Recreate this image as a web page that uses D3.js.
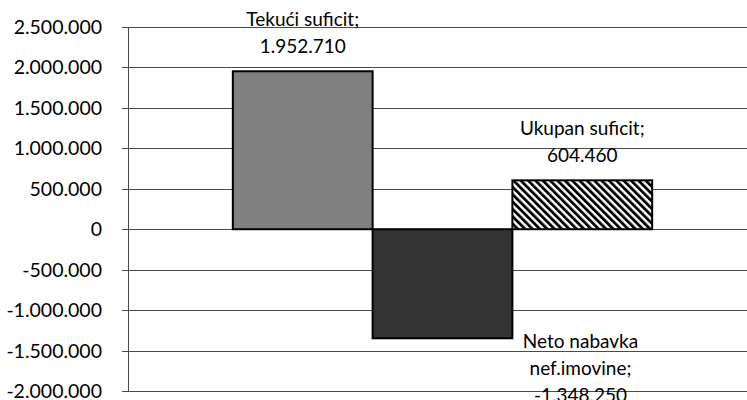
<!DOCTYPE html>
<html>
<head>
<meta charset="utf-8">
<script src="https://cdn.jsdelivr.net/npm/d3@7.9.0/dist/d3.min.js"></script>
<style>
  body { margin: 0; background: #fff; }
  svg { display: block; font-family: Lato, "Open Sans", sans-serif; }
</style>
</head>
<body>
<svg width="747" height="400"></svg>
<script>
// chart data
const categories = ['Tekući suficit', 'Neto nabavka nef.imovine', 'Ukupan suficit'];
const values = [1952710, -1348250, 604460];
const labelNames = [['Tekući suficit;'], ['Neto nabavka', 'nef.imovine;'], ['Ukupan suficit;']];
const tickValues = [-2000000, -1500000, -1000000, -500000, 0, 500000, 1000000, 1500000, 2000000, 2500000];

const locale = d3.formatLocale({ decimal: ',', thousands: '.', grouping: [3], currency: ['', ''], minus: '-' });
const fmt = locale.format(',d');

const svg = d3.select('svg');
const plotLeft = 128, plotRight = 757, plotTop = 27, plotBottom = 391;

let y = d3.scaleLinear().domain([-2000000, 2500000]).range([plotBottom, plotTop]);
let x = d3.scaleBand().domain(categories).range([plotLeft, plotRight]).paddingInner(0).paddingOuter(0.75);

// hatch for the last bar
const defs = svg.append('defs');
defs.append('pattern')
  .attr('id', 'hatch')
  .attr('patternUnits', 'userSpaceOnUse')
  .attr('width', 5.2).attr('height', 5.2)
  .attr('patternTransform', 'rotate(-45)')
  .call(p => {
    p.append('rect').attr('width', 5.2).attr('height', 5.2).attr('fill', '#fff');
    p.append('rect').attr('width', 2.8).attr('height', 5.2).attr('fill', '#000');
  });

const fills = ['#808080', '#333333', 'url(#hatch)'];

// gridlines
svg.append('g')
  .selectAll('line')
  .data(tickValues)
  .join('line')
  .attr('x1', plotLeft - 6).attr('x2', 747)
  .attr('y1', d => Math.round(y(d)) + 0.5).attr('y2', d => Math.round(y(d)) + 0.5)
  .attr('stroke', '#4a4a4a').attr('stroke-width', 1);

// y axis line
svg.append('line')
  .attr('x1', plotLeft + 0.5).attr('x2', plotLeft + 0.5)
  .attr('y1', Math.round(y(2500000)) + 0.5).attr('y2', Math.round(y(-2000000)) + 0.5)
  .attr('stroke', '#4a4a4a');

// tick labels
svg.append('g')
  .selectAll('text')
  .data(tickValues)
  .join('text')
  .attr('x', 102)
  .attr('y', d => y(d))
  .attr('dy', '0.36em')
  .attr('text-anchor', 'end')
  .attr('font-size', 19.5)
  .attr('fill', '#000')
  .text(d => fmt(d));

// bars
svg.append('g')
  .selectAll('rect')
  .data(values)
  .join('rect')
  .attr('x', (d, i) => x(categories[i]))
  .attr('width', x.bandwidth())
  .attr('y', d => y(Math.max(0, d)))
  .attr('height', d => Math.abs(y(d) - y(0)))
  .attr('fill', (d, i) => fills[i])
  .attr('stroke', '#000')
  .attr('stroke-width', 2);

// data labels
const lineH = 27;
values.forEach((v, i) => {
  let lines = labelNames[i].concat([fmt(v)]);
  let cx = x(categories[i]) + x.bandwidth() / 2;
  let firstBase;
  if (v >= 0) {
    firstBase = y(v) - 18 - (lines.length - 1) * lineH;
  } else {
    // this label sits to the right, below the bar
    cx += 138;
    firstBase = y(v) + 10;
  }
  let t = svg.append('text')
    .attr('text-anchor', 'middle')
    .attr('font-size', 19)
    .attr('fill', '#000');
  lines.forEach((s, j) => {
    t.append('tspan').attr('x', cx).attr('y', firstBase + j * lineH).text(s);
  });
});
</script>
</body>
</html>
